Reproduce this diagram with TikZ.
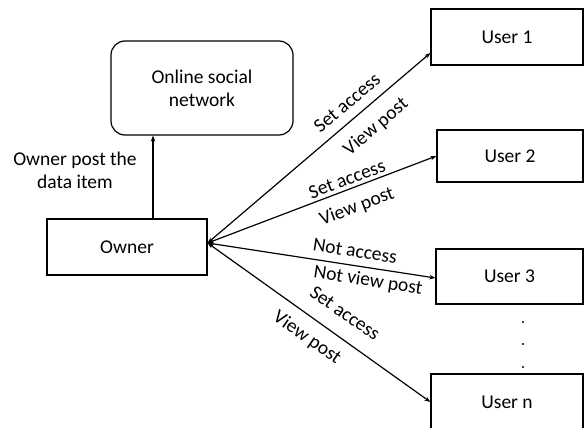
\documentclass[tikz,border=0pt]{standalone}
\usepackage{fontspec}
\setmainfont{Carlito}
\usetikzlibrary{arrows.meta,calc}
\begin{document}
\begin{tikzpicture}[x=1pt,y=-1pt,
  every node/.style={font=\fontsize{19.5}{23}\selectfont},
  box/.style={draw,line width=1.2pt,inner sep=0pt},
  conn/.style={line width=1.2pt,{Stealth[length=6pt,width=4.5pt]}-{Stealth[length=6pt,width=4.5pt]}},
  lab/.style={inner sep=0pt}]
\useasboundingbox (0,0) rectangle (584,428);
\clip (0,0) rectangle (584,428);
\node[box,rounded corners=14pt,minimum width=182pt,minimum height=94pt,align=center] (osn) at (202,88) {Online social\\network};
\node[box,minimum width=160pt,minimum height=56pt] (owner) at (127,247) {Owner};
\node[box,minimum width=152pt,minimum height=56pt] (u1) at (507,37) {User 1};
\node[box,minimum width=146pt,minimum height=52pt] (u2) at (510,156) {User 2};
\node[box,minimum width=147pt,minimum height=55pt] (u3) at (509.5,276.5) {User 3};
\node[box,minimum width=152pt,minimum height=56pt] (un) at (507,402) {User n};
\node[align=center] (postlab) at (75,170) {Owner post the\\data item};
\coordinate (hub) at ([yshift=4pt]owner.east);
\draw[line width=1.2pt,-{Stealth[length=6pt,width=4.5pt]}] (owner.north -| 153,0) -- (osn.south -| 153,0);
\draw[conn] (hub) -- ([yshift=-16pt]u1.west);
\draw[conn] (hub) -- (u2.west);
\draw[conn] (hub) -- ([yshift=-1.5pt]u3.west);
\draw[conn] (hub) -- (un.west);
\node[lab,rotate=40.3] (l1a) at (347,103) {Set access};
\node[lab,rotate=40.3] (l1b) at (376,127) {View post};
\node[lab,rotate=20.7] (l2a) at (347,179) {Set access};
\node[lab,rotate=20.7] (l2b) at (357,207) {View post};
\node[lab,rotate=-8.7] (l3a) at (355,251) {Not access};
\node[lab,rotate=-8.7] (l3b) at (368,281) {Not view post};
\node[lab,rotate=-35] (l4a) at (345,313) {Set access};
\node[lab,rotate=-35] (l4b) at (307,338) {View post};
\foreach \yy [count=\i] in {322,344,367} \fill (523,\yy) circle (1.2pt) coordinate (dot\i);
\end{tikzpicture}
\end{document}
